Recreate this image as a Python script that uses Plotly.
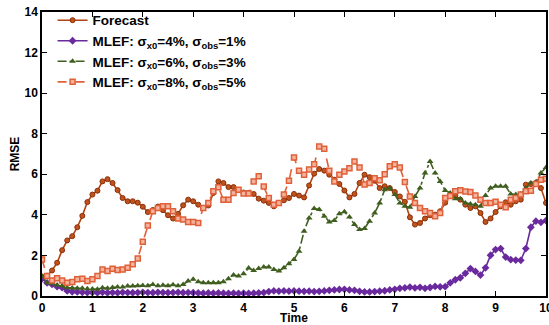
import plotly.graph_objects as go

# time axis: 0.0 .. 10.0 step 0.1
time = [round(i * 0.1, 1) for i in range(101)]

forecast = [0.95, 1.0, 1.26, 1.64, 2.26, 2.74, 2.95, 3.39, 3.95, 4.63,
            5.0, 5.19, 5.65, 5.76, 5.57, 5.22, 4.83, 4.67, 4.67, 4.6,
            4.4, 4.14, 4.24, 4.41, 4.23, 3.98, 3.82, 4.05, 4.47, 4.75,
            4.67, 4.5, 4.34, 4.46, 5.08, 5.65, 5.57, 5.37, 5.37, 5.22,
            5.1, 5.08, 5.03, 4.8, 4.7, 4.59, 4.42, 4.59, 4.72, 4.83,
            5.03, 4.95, 4.86, 5.45, 6.03, 6.26, 6.18, 5.98, 5.73, 5.52,
            5.2, 4.86, 5.03, 5.57, 5.98, 5.86, 5.68, 5.32, 5.41, 5.32,
            5.13, 4.91, 4.64, 3.88, 3.52, 3.6, 3.82, 3.98, 4.01, 4.18,
            4.6, 5.0, 4.95, 4.75, 4.5, 4.34, 4.42, 4.09, 3.65, 3.82,
            4.14, 4.42, 4.62, 4.5, 4.67, 4.75, 5.49, 5.52, 5.57, 5.32,
            4.59]

mlef_4_1 = [0.85, 0.65, 0.57, 0.46, 0.41, 0.25, 0.21, 0.2, 0.18, 0.17,
            0.17, 0.16, 0.18, 0.16, 0.17, 0.16, 0.18, 0.17, 0.16, 0.17,
            0.18, 0.17, 0.16, 0.18, 0.17, 0.16, 0.17, 0.18, 0.16, 0.17,
            0.16, 0.15, 0.14, 0.15, 0.14, 0.15, 0.14, 0.13, 0.14, 0.13,
            0.14, 0.13, 0.14, 0.15, 0.17, 0.22, 0.25, 0.24, 0.25, 0.24,
            0.25, 0.24, 0.23, 0.24, 0.22, 0.23, 0.25, 0.28, 0.3, 0.32,
            0.33, 0.3, 0.28, 0.23, 0.2, 0.2, 0.22, 0.24, 0.26, 0.3,
            0.33, 0.38, 0.4, 0.44, 0.4, 0.43, 0.38, 0.42, 0.47, 0.45,
            0.46, 0.65, 0.8, 0.9, 1.12, 1.35, 1.21, 1.03, 1.39, 2.01,
            2.29, 2.34, 1.92, 1.79, 1.77, 1.76, 2.34, 3.39, 3.69, 3.63,
            3.72]

mlef_6_3 = [0.98, 0.65, 0.6, 0.54, 0.5, 0.41, 0.4, 0.38, 0.38, 0.36,
            0.35, 0.33, 0.41, 0.38, 0.42, 0.44, 0.44, 0.49, 0.49, 0.5,
            0.52, 0.5, 0.57, 0.5, 0.53, 0.5, 0.55, 0.5, 0.57, 0.74,
            0.82, 0.7, 0.65, 0.65, 0.65, 0.65, 0.7, 0.85, 1.03, 0.98,
            1.1, 1.38, 1.26, 1.36, 1.43, 1.43, 1.31, 1.23, 1.39, 1.59,
            1.8, 2.21, 3.19, 3.85, 4.31, 4.26, 3.93, 3.65, 3.72, 4.05,
            4.15, 3.9, 3.52, 3.28, 3.33, 3.69, 4.09, 4.59, 5.24, 5.32,
            5.0, 4.59, 4.42, 4.37, 4.91, 5.32, 6.06, 6.63, 6.06, 5.65,
            5.2, 5.08, 4.8, 4.8, 4.59, 4.54, 4.5, 4.42, 4.96, 5.32,
            5.41, 5.41, 5.41, 5.03, 5.0, 5.03, 5.32, 5.57, 5.62, 6.06,
            6.34]

mlef_8_5 = [1.8, 0.98, 0.77, 0.87, 0.77, 0.65, 0.69, 0.82, 0.85, 0.74,
            0.82, 0.98, 1.31, 1.23, 1.34, 1.28, 1.31, 1.39, 1.56, 1.85,
            2.68, 3.47, 4.18, 4.34, 4.42, 4.42, 4.18, 3.82, 3.77, 3.65,
            3.65, 3.6, 4.34, 4.59, 5.16, 5.36, 4.75, 4.75, 5.08, 5.24,
            5.05, 5.05, 5.65, 5.9, 5.4, 4.83, 4.5, 4.59, 5.0, 5.68,
            6.83, 6.18, 5.98, 6.23, 6.5, 7.37, 7.26, 6.18, 5.65, 5.98,
            6.14, 6.3, 6.63, 6.34, 5.5, 5.57, 5.8, 5.7, 6.0, 6.39,
            6.5, 6.34, 5.62, 4.91, 4.59, 4.34, 4.18, 4.09, 3.93, 4.09,
            4.83, 4.93, 5.16, 5.21, 5.15, 5.13, 4.96, 4.75, 4.59, 4.59,
            4.64, 4.5, 4.37, 4.75, 4.83, 5.0, 5.16, 5.19, 5.52, 5.73,
            5.78]

fig = go.Figure()

fig.add_trace(go.Scatter(
    x=time, y=forecast, name="Forecast", mode="lines+markers",
    line=dict(color="#b0430f", width=1.6),
    marker=dict(symbol="circle", size=5, color="#c0521c",
                line=dict(color="#8a300a", width=1))))

fig.add_trace(go.Scatter(
    x=time, y=mlef_4_1, name="MLEF: σ<sub>x0</sub>=4%, σ<sub>obs</sub>=1%",
    mode="lines+markers",
    line=dict(color="#6a2a9e", width=1.6),
    marker=dict(symbol="diamond", size=6, color="#6a2a9e")))

fig.add_trace(go.Scatter(
    x=time, y=mlef_6_3, name="MLEF: σ<sub>x0</sub>=6%, σ<sub>obs</sub>=3%",
    mode="lines+markers",
    line=dict(color="#3f5e1f", width=1.6, dash="dashdot"),
    marker=dict(symbol="triangle-up", size=6, color="#3f5e1f")))

fig.add_trace(go.Scatter(
    x=time, y=mlef_8_5, name="MLEF: σ<sub>x0</sub>=8%, σ<sub>obs</sub>=5%",
    mode="lines+markers",
    line=dict(color="#e0603a", width=1.6, dash="dash"),
    marker=dict(symbol="square", size=5, color="#f3b39c",
                line=dict(color="#e0603a", width=1.5))))

axis_style = dict(showline=True, linecolor="black", linewidth=1.5, mirror="ticks",
                  ticks="inside", ticklen=5, tickcolor="black", showgrid=False,
                  zeroline=False, tickfont=dict(size=12), ticklabeloverflow="allow",
                  automargin=False)

fig.update_xaxes(range=[0, 10], dtick=1,
                 title=dict(text="Time", standoff=0, font=dict(size=12)),
                 **axis_style)
fig.update_yaxes(range=[0, 14], dtick=2,
                 title=dict(text="RMSE", standoff=2, font=dict(size=12)),
                 **axis_style)

fig.update_layout(
    width=549, height=325,
    margin=dict(l=42, r=3, t=12, b=29),
    paper_bgcolor="white", plot_bgcolor="white",
    font=dict(family="Liberation Sans, Arial", size=12, color="black", weight="bold"),
    legend=dict(x=0.021, y=1.025, xanchor="left", yanchor="top",
                bgcolor="rgba(0,0,0,0)", tracegroupgap=0,
                font=dict(size=13.5)),
    showlegend=True,
)

# drop the default body margin so the figure fills the window exactly
fig.write_html("out.html", config={"displayModeBar": False},
               post_script="document.body.style.margin='0';document.body.style.overflow='hidden';")
